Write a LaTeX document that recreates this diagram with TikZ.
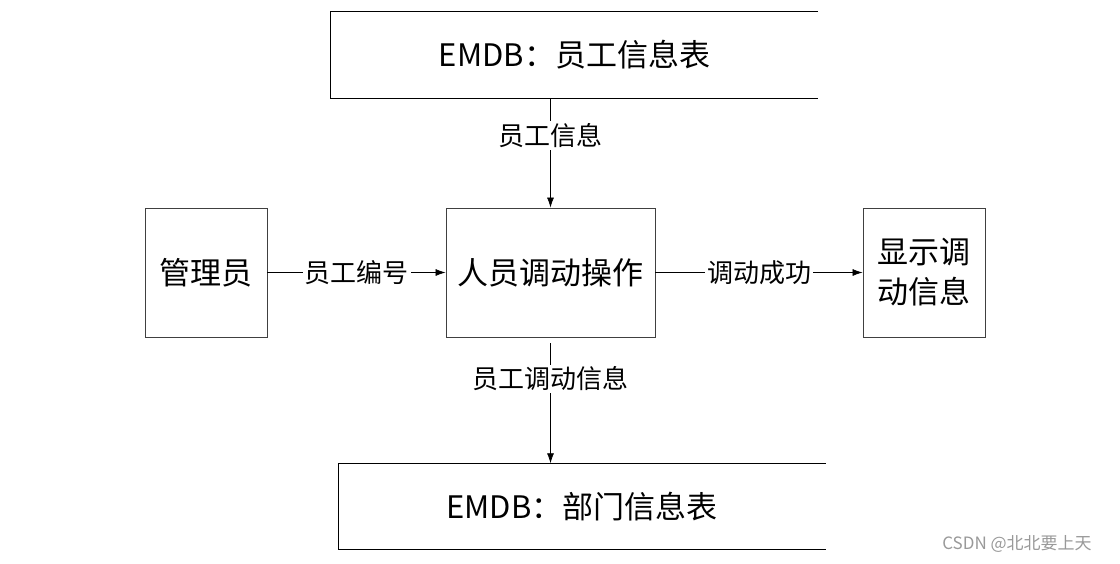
\documentclass[tikz,border=0pt]{standalone}
\usepackage{fontspec}
\setmainfont{Noto Sans CJK SC}
\usepackage{tikz}
\usetikzlibrary{arrows.meta}
\usetikzlibrary{calc}
\usetikzlibrary{positioning}
\colorlet{boxline}{black!75}
\colorlet{markgray}{black!40}
\tikzstyle{proc}=[draw=boxline,line width=.8pt,minimum width=122pt,minimum height=129pt,inner sep=0pt,align=center,font=\fontsize{31}{40}\selectfont]
\tikzstyle{store}=[minimum width=487pt,minimum height=86pt,inner sep=0pt,font=\fontsize{31}{36}\selectfont]
\tikzstyle{flow}=[line width=.7pt,-{Latex[length=10pt,width=7pt]}]
\tikzstyle{flowlabel}=[fill=white,inner sep=2pt,font=\fontsize{26}{30}\selectfont]
\newcommand\openstore[1]{\draw[line width=.8pt] (#1.north east) -- (#1.north west) -- (#1.south west) -- (#1.south east);}
\begin{document}
\begin{tikzpicture}[x=1pt,y=-1pt]
	\useasboundingbox (0,0) rectangle (1120,563);
	\node[store] (empdb)  at (574.5,55)  {EMDB：员工信息表};
	\node[store] (deptdb) at (582,506.5) {EMDB：部门信息表};
	\openstore{empdb}
	\openstore{deptdb}
	\node[proc,minimum width=122pt] (admin)    at (206,272.5)   {管理员};
	\node[proc,minimum width=209pt] (transfer) at (550.5,272.5) {人员调动操作};
	\node[proc,minimum width=122pt] (showinfo) at (924,272.5)   {显示调\\动信息};
	\draw[flow] (transfer.north |- empdb.south) --node[flowlabel,pos=.34]{员工信息} (transfer.north);
	\draw[flow] (admin.east) --node[flowlabel]{员工编号} (transfer.west);
	\draw[flow] (transfer.east) --node[flowlabel]{调动成功} (showinfo.west);
	\draw[flow,shorten <=6pt] (transfer.south) --node[flowlabel,pos=.33]{员工调动信息} (transfer.south |- deptdb.north);
	\node[text=markgray,font=\fontsize{17}{20}\selectfont] (mark) at (1017,544) {CSDN @北北要上天};
\end{tikzpicture}
\end{document}
